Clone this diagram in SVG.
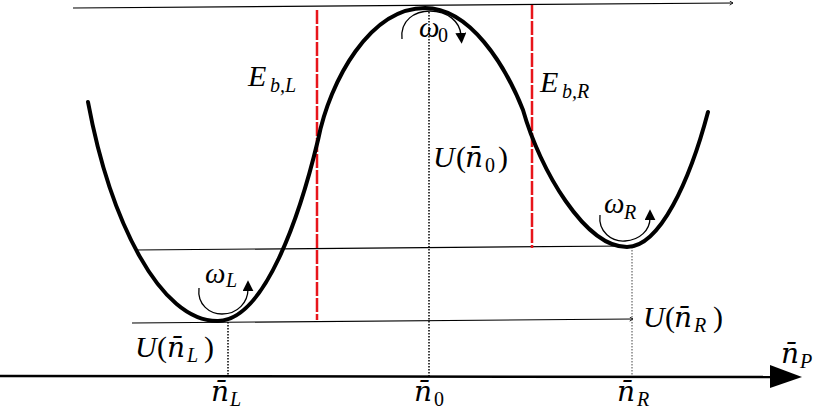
<svg xmlns="http://www.w3.org/2000/svg" width="817" height="409" viewBox="0 0 817 409">
<style>
.thin{stroke:#000;stroke-width:1.2;fill:none}
.curve{stroke:#000;stroke-width:4;fill:none;stroke-linecap:round;stroke-linejoin:round}
.red{stroke:#e8151b;stroke-width:2.5;fill:none;stroke-dasharray:14 2}
.dot{stroke:#000;stroke-width:1.5;fill:none;stroke-dasharray:1.5 1.5}
.dotg{stroke:#444;stroke-width:1;fill:none;stroke-dasharray:1.5 1.5}
.arc{stroke:#000;stroke-width:1.3;fill:none}
text{font-family:"Liberation Serif","DejaVu Serif",serif;fill:#000}
.it{font-style:italic;font-size:30px}
.up{font-style:normal}
.sb{font-size:20px}
.n{font-family:"DejaVu Serif",serif;font-size:28px}
.w{font-size:29px}
</style>
<defs>
<marker id="ah" viewBox="0 0 10 10" refX="2" refY="5" markerWidth="11" markerHeight="11" markerUnits="userSpaceOnUse" orient="auto"><path d="M0,0 L10,5 L0,10 z" fill="#000"/></marker>
<marker id="sm" viewBox="0 0 6 6" refX="5" refY="3" markerWidth="5" markerHeight="5" markerUnits="userSpaceOnUse" orient="auto"><path d="M1,0.5 L5,3 L1,5.5" fill="none" stroke="#000" stroke-width="1"/></marker>
</defs>
<g id="levels">
<path class="thin" d="M73,8 L733,3" marker-end="url(#sm)"/>
<path class="thin" d="M135,250 L628,246"/>
<path class="thin" d="M132,323 L633,319" marker-end="url(#sm)"/>
</g>
<g id="axis">
<path d="M0,376 L772,377" stroke="#000" stroke-width="2.5" fill="none"/>
<path d="M770,365 L802,377 L770,388 z" fill="#000"/>
</g>
<g id="guides">
<path class="dot" d="M429,12 L429,376"/>
<path class="dot" d="M228,322 L228,376"/>
<path class="dotg" d="M632,247 L632,376"/>
<path class="red" d="M317,10 L317,320"/>
<path class="red" d="M532,5 L532,248"/>
</g>
<g id="potential">
<path class="curve" d="M88,102 C110,220 160,322 218,321 C265,320 300,215 318,140 C330,80 370,8 425,8 C470,8 505,65 523,110 C540,170 585,247 627,247 C660,247 690,180 708,112"/>
</g>
<g id="rotations">
<path class="arc" d="M402,39 C400,20 415,11 430,11 C448,11 460,22 461,35" marker-end="url(#ah)"/>
<path class="arc" d="M199,288 C197,305 210,314 222,314 C238,314 248,302 248,289" marker-end="url(#ah)"/>
<path class="arc" d="M600,215 C598,232 612,242 625,241 C640,240 650,230 650,218" marker-end="url(#ah)"/>
</g>
<g id="labels">
<text class="it"><tspan x="248" y="86">E</tspan><tspan class="sb" x="270" y="92">b,L</tspan></text>
<text class="it"><tspan x="540" y="92">E</tspan><tspan class="sb" x="562" y="98">b,R</tspan></text>
<text class="it"><tspan class="w" x="419" y="37">ω</tspan><tspan class="sb up" x="438" y="42">0</tspan></text>
<text class="it"><tspan class="w" x="205" y="283">ω</tspan><tspan class="sb" x="226" y="287">L</tspan></text>
<text class="it"><tspan class="w" x="604" y="213">ω</tspan><tspan class="sb" x="624" y="219">R</tspan></text>
<text class="it"><tspan x="433" y="167">U</tspan><tspan class="up" x="456" y="167">(</tspan><tspan class="n" x="465" y="167">n̄</tspan><tspan class="sb up" x="485" y="172">0</tspan><tspan class="up" x="498" y="167">)</tspan></text>
<text class="it"><tspan x="135" y="357">U</tspan><tspan class="up" x="157" y="357">(</tspan><tspan class="n" x="167" y="357">n̄</tspan><tspan class="sb" x="187" y="362">L</tspan><tspan class="up" x="204" y="357">)</tspan></text>
<text class="it"><tspan x="643" y="327">U</tspan><tspan class="up" x="665" y="327">(</tspan><tspan class="n" x="674" y="327">n̄</tspan><tspan class="sb" x="694" y="332">R</tspan><tspan class="up" x="713" y="327">)</tspan></text>
<text class="it"><tspan class="n" x="211" y="401">n̄</tspan><tspan class="sb" x="230" y="406">L</tspan></text>
<text class="it"><tspan class="n" x="414" y="401">n̄</tspan><tspan class="sb up" x="434" y="406">0</tspan></text>
<text class="it"><tspan class="n" x="617" y="401">n̄</tspan><tspan class="sb" x="637" y="406">R</tspan></text>
<text class="it"><tspan class="n" x="781" y="363">n̄</tspan><tspan class="sb" x="800" y="368">P</tspan></text>
</g>
</svg>
